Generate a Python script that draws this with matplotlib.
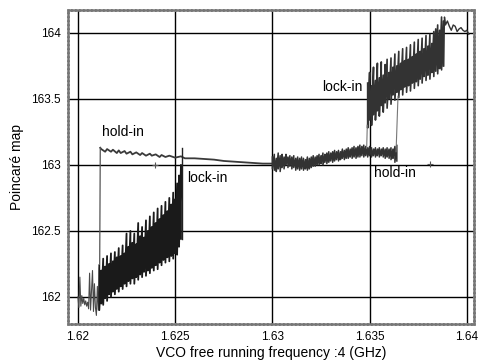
import numpy as np
import matplotlib
matplotlib.use("Agg")
import matplotlib.pyplot as plt

plt.rcParams['font.family'] = ['Liberation Sans', 'DejaVu Sans']

# pre-lock noise at the low-frequency end (GHz, Poincare value)
noise_x = [1.62000, 1.62005, 1.62010, 1.62015, 1.62020, 1.62025, 1.62030,
           1.62035, 1.62040, 1.62045, 1.62050, 1.62055, 1.62060, 1.62065,
           1.62070, 1.62075, 1.62080, 1.62085, 1.62090, 1.62095, 1.62100,
           1.62105, 1.62110]
noise_y = [162.00, 161.92, 162.15, 161.93, 162.01, 161.95, 161.99,
           161.94, 161.97, 161.93, 161.96, 161.91, 162.18, 161.90,
           162.05, 162.20, 161.89, 162.10, 161.92, 161.86, 162.08,
           161.90, 162.22]

# oscillating band, up-sweep before lock-in
band1_x = [1.6211, 1.6212, 1.6213, 1.6214, 1.6215, 1.6216, 1.6217, 1.6218,
           1.6219, 1.6220, 1.6221, 1.6222, 1.6223, 1.6224, 1.6225, 1.6226,
           1.6227, 1.6228, 1.6229, 1.6230, 1.6231, 1.6232, 1.6233, 1.6234,
           1.6235, 1.6236, 1.6237, 1.6238, 1.6239, 1.6240, 1.6241, 1.6242,
           1.6243, 1.6244, 1.6245, 1.6246, 1.6247, 1.6248, 1.6249, 1.6250,
           1.6251, 1.6252, 1.6253]
band1_top = [162.24, 162.20, 162.29, 162.23, 162.31, 162.25, 162.33, 162.27,
             162.34, 162.30, 162.37, 162.31, 162.39, 162.33, 162.48, 162.38,
             162.50, 162.41, 162.48, 162.40, 162.56, 162.46, 162.53, 162.45,
             162.58, 162.50, 162.61, 162.53, 162.64, 162.56, 162.67, 162.59,
             162.69, 162.62, 162.72, 162.65, 162.75, 162.70, 162.79, 162.74,
             162.86, 162.92, 163.00]
band1_bot = [161.90, 161.95, 161.94, 161.99, 161.97, 162.02, 162.00, 162.04,
             162.02, 162.06, 162.04, 162.08, 162.06, 162.10, 162.08, 162.12,
             162.10, 162.14, 162.10, 162.15, 162.13, 162.17, 162.15, 162.19,
             162.16, 162.20, 162.18, 162.22, 162.20, 162.24, 162.21, 162.26,
             162.24, 162.28, 162.26, 162.30, 162.27, 162.31, 162.29, 162.33,
             162.32, 162.38, 162.44]

# locked plateau between the two jumps
flat_x = [1.62115, 1.6212, 1.6214, 1.6215, 1.6217, 1.6218, 1.6220, 1.6221,
          1.6222, 1.6224, 1.6225, 1.6227, 1.6228, 1.6230, 1.6232, 1.6233,
          1.6235, 1.6237, 1.6238, 1.6240, 1.6242, 1.6243, 1.6245, 1.6247,
          1.6250, 1.6253, 1.6255, 1.6260, 1.6265, 1.6270, 1.6275, 1.6280,
          1.6285, 1.6290, 1.6295, 1.6300]
flat_y = [163.13, 163.12, 163.10, 163.12, 163.10, 163.115, 163.09, 163.11,
          163.09, 163.105, 163.085, 163.10, 163.08, 163.095, 163.075, 163.09,
          163.07, 163.085, 163.07, 163.08, 163.06, 163.075, 163.06, 163.07,
          163.055, 163.065, 163.05, 163.05, 163.045, 163.04, 163.03, 163.025,
          163.02, 163.015, 163.01, 163.01]

# noisy band above 1.63
band3_x = [1.6300, 1.6301, 1.6302, 1.6303, 1.6304, 1.6305, 1.6306, 1.6307,
           1.6308, 1.6309, 1.6310, 1.6311, 1.6312, 1.6313, 1.6314, 1.6315,
           1.6316, 1.6317, 1.6318, 1.6319, 1.6320, 1.6321, 1.6322, 1.6323,
           1.6324, 1.6325, 1.6326, 1.6327, 1.6328, 1.6329, 1.6330, 1.6331,
           1.6332, 1.6333, 1.6334, 1.6335, 1.6336, 1.6337, 1.6338, 1.6339,
           1.6340, 1.6341, 1.6342, 1.6343, 1.6344, 1.6345, 1.6346, 1.6347,
           1.6348, 1.6349, 1.6350, 1.6351, 1.6352, 1.6353, 1.6354, 1.6355,
           1.6356, 1.6357, 1.6358, 1.6359, 1.6360, 1.6361, 1.6362, 1.6363,
           1.6364]
band3_top = [163.06, 163.08, 163.05, 163.09, 163.07, 163.08, 163.06, 163.08,
             163.06, 163.07, 163.06, 163.07, 163.05, 163.06, 163.05, 163.06,
             163.05, 163.04, 163.06, 163.05, 163.06, 163.07, 163.06, 163.07,
             163.08, 163.07, 163.09, 163.08, 163.09, 163.10, 163.09, 163.10,
             163.11, 163.10, 163.11, 163.10, 163.12, 163.11, 163.12, 163.13,
             163.12, 163.13, 163.14, 163.13, 163.14, 163.15, 163.14, 163.15,
             163.14, 163.13, 163.14, 163.13, 163.12, 163.13, 163.12, 163.13,
             163.12, 163.13, 163.12, 163.13, 163.12, 163.13, 163.12, 163.14,
             163.15]
band3_bot = [162.97, 162.96, 162.95, 162.97, 162.95, 162.98, 162.97, 163.00,
             162.98, 162.99, 162.97, 162.98, 162.96, 162.97, 162.96, 162.97,
             162.96, 162.97, 162.96, 162.97, 162.98, 162.99, 162.99, 163.00,
             163.00, 163.01, 163.00, 163.02, 163.01, 163.02, 163.03, 163.02,
             163.03, 163.04, 163.03, 163.04, 163.05, 163.04, 163.05, 163.05,
             163.06, 163.05, 163.06, 163.05, 163.06, 163.06, 163.07, 163.06,
             163.07, 163.06, 163.07, 163.06, 163.07, 163.06, 163.07, 163.06,
             163.07, 163.06, 163.05, 163.06, 163.05, 163.04, 163.05, 163.02,
             163.03]

# oscillating band, upper branch
band4_x = [1.6349, 1.6350, 1.6351, 1.6352, 1.6353, 1.6354, 1.6355, 1.6356,
           1.6357, 1.6358, 1.6359, 1.6360, 1.6361, 1.6362, 1.6363, 1.6364,
           1.6365, 1.6366, 1.6367, 1.6368, 1.6369, 1.6370, 1.6371, 1.6372,
           1.6373, 1.6374, 1.6375, 1.6376, 1.6377, 1.6378, 1.6379, 1.6380,
           1.6381, 1.6382, 1.6383, 1.6384, 1.6385, 1.6386, 1.6387, 1.6388]
band4_top = [163.62, 163.70, 163.60, 163.74, 163.64, 163.77, 163.66, 163.78,
             163.68, 163.76, 163.80, 163.70, 163.81, 163.74, 163.84, 163.75,
             163.86, 163.77, 163.88, 163.79, 163.89, 163.80, 163.91, 163.82,
             163.93, 163.84, 163.95, 163.86, 163.96, 163.88, 163.98, 163.90,
             163.99, 163.92, 164.01, 164.03, 164.06, 164.02, 164.12, 164.09]
band4_bot = [163.28, 163.34, 163.30, 163.38, 163.34, 163.41, 163.37, 163.45,
             163.40, 163.47, 163.43, 163.50, 163.46, 163.53, 163.49, 163.55,
             163.51, 163.57, 163.53, 163.59, 163.55, 163.60, 163.56, 163.62,
             163.58, 163.63, 163.60, 163.65, 163.62, 163.67, 163.64, 163.68,
             163.65, 163.70, 163.67, 163.71, 163.69, 163.73, 163.72, 163.75]

# tail at the high-frequency end
tail_x = [1.6388, 1.63885, 1.6389, 1.6390, 1.6391, 1.6392, 1.6393, 1.6394,
          1.6395, 1.6396, 1.6397, 1.6398, 1.6399, 1.6400, 1.6401]
tail_y = [163.75, 164.12, 164.06, 164.09, 164.05, 164.02, 164.06, 164.05,
          164.01, 164.03, 164.04, 164.02, 164.01, 164.02, 163.99]

# jumps (x pairs, y pairs)
hold_left_x, hold_left_y = [1.62115, 1.62112], [163.13, 162.25]
lock_left_x, lock_left_y = [1.62536, 1.62536], [162.44, 163.13]
lock_right_x, lock_right_y = [1.63485, 1.63488], [163.13, 163.30]
hold_right_x, hold_right_y = [1.63636, 1.63646], [163.10, 163.52]

plus_x = [1.62397, 1.6381]
plus_y = [163.0, 163.01]

labels = ["hold-in", "lock-in", "lock-in", "hold-in"]
label_x = [1.62232, 1.62665, 1.63361, 1.63629]
label_y = [163.25, 162.90, 163.59, 162.94]


def zigzag(xs, top, bot):
    xx = np.repeat(np.asarray(xs), 2)
    yy = np.column_stack([top, bot]).ravel()
    return xx, yy


fig = plt.figure(figsize=(4.85, 3.61), dpi=100)
ax = fig.add_axes([0.140, 0.1025, 0.837, 0.870])

ax.plot(noise_x, noise_y, color='#4a4a4a', lw=0.8)
ax.plot(*zigzag(band1_x, band1_top, band1_bot), color='#1a1a1a', lw=1.3)
ax.plot(flat_x, flat_y, color='#3a3a3a', lw=1.3)
ax.plot(*zigzag(band3_x, band3_top, band3_bot), color='#333333', lw=1.1)
ax.plot(*zigzag(band4_x, band4_top, band4_bot), color='#333333', lw=1.2)
ax.plot(tail_x, tail_y, color='#333333', lw=1.0)

ax.plot(hold_left_x, hold_left_y, color='#555555', lw=0.9)
ax.plot(lock_left_x, lock_left_y, color='#222222', lw=1.0)
ax.plot(lock_right_x, lock_right_y, color='#777777', lw=0.8)
ax.plot(hold_right_x, hold_right_y, color='#777777', lw=0.8)
ax.plot(plus_x, plus_y, '+', color='#555555', ms=4, mew=0.8)

for txt, tx, ty in zip(labels, label_x, label_y):
    ax.text(tx, ty, txt, fontsize=10, ha='center', va='center')

ax.set_xlim(1.619485, 1.64036)
ax.set_ylim(161.795, 164.174)
ax.set_xticks([1.62, 1.625, 1.63, 1.635, 1.64])
ax.set_xticklabels(["1.62", "1.625", "1.63", "1.635", "1.64"])
ax.set_yticks([162, 162.5, 163, 163.5, 164])
ax.set_yticklabels(["162", "162.5", "163", "163.5", "164"])
ax.tick_params(length=0, pad=5, labelsize=8.5)
ax.grid(True, color='black', lw=1.0)
ax.set_axisbelow(True)
for sp in ax.spines.values():
    sp.set_color('#777777')
    sp.set_linewidth(1.8)
    sp.set_linestyle((0, (1, 0.6)))

ax.set_xlabel("VCO free running frequency :4 (GHz)", fontsize=10, labelpad=2)
ax.set_ylabel("Poincaré map", fontsize=10, labelpad=5)

fig.savefig("out.png", dpi=100)
